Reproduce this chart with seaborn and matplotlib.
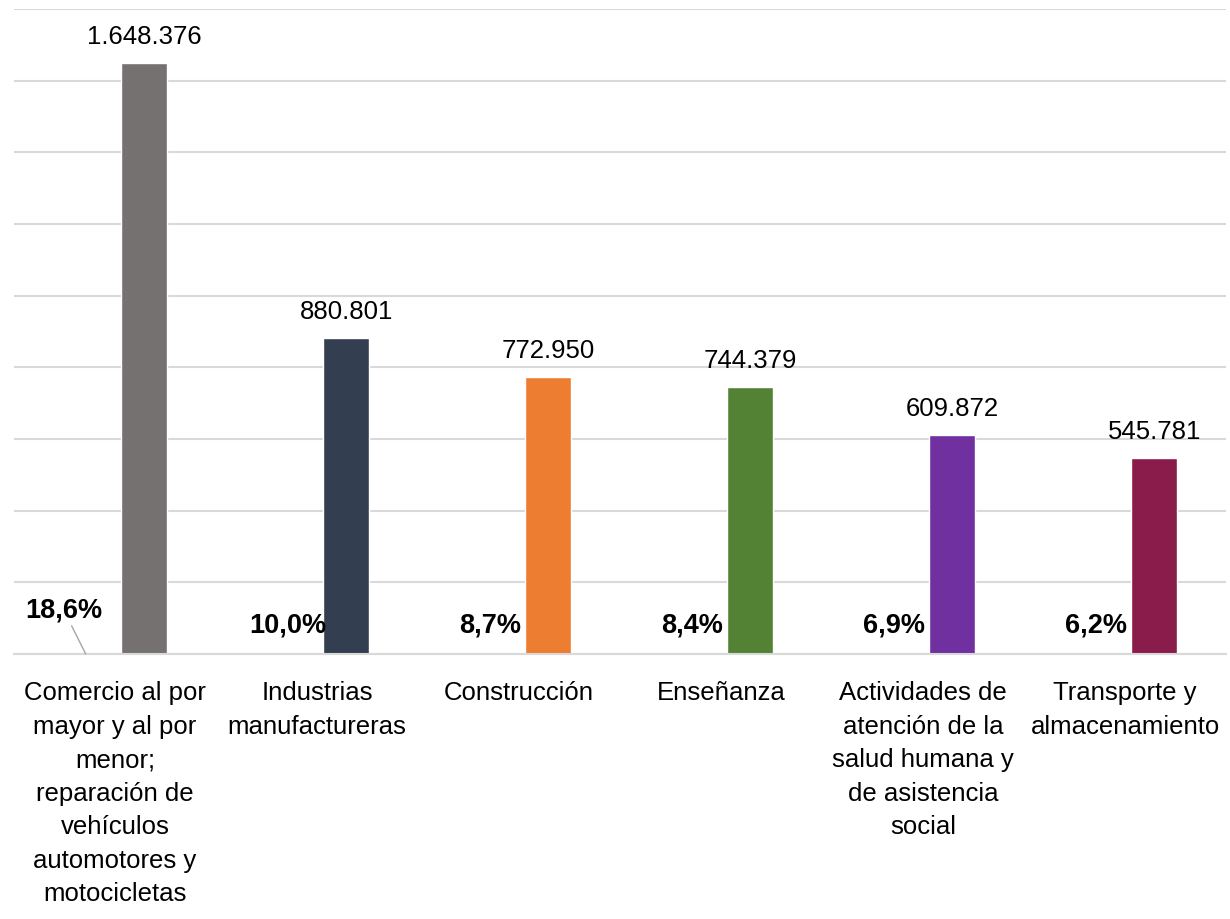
import numpy as np
import pandas as pd
import seaborn as sns
from matplotlib import pyplot as plt

# data
sectores = ['Comercio al por\nmayor y al por\nmenor;\nreparación de\nvehículos\nautomotores y\nmotocicletas',
            'Industrias\nmanufactureras',
            'Construcción',
            'Enseñanza',
            'Actividades de\natención de la\nsalud humana y\nde asistencia\nsocial',
            'Transporte y\nalmacenamiento']
ocupados = [1648376, 880801, 772950, 744379, 609872, 545781]
participacion = [18.6, 10.0, 8.7, 8.4, 6.9, 6.2]
colores = ['#767171', '#333F50', '#ED7D31', '#548235', '#7030A0', '#8A1C4B']

sns.set_theme(style='white')
plt.rcParams['font.family'] = ['Liberation Sans', 'DejaVu Sans']

df = pd.DataFrame({'pos': np.arange(len(sectores)), 'ocupados': ocupados})
df['x'] = df['pos'] + 0.145   # value bars sit right of the category centre

fig = plt.figure(figsize=(12.3, 9.2), dpi=100)
ax = fig.add_axes([14/1230, 1 - 655/920, 1212/1230, 645/920])

sns.barplot(data=df, x='x', y='ocupados', hue='x', palette=colores, native_scale=True,
            width=0.228, legend=False, saturation=1, ax=ax)

ax.set_xlim(-0.5, len(sectores) - 0.5)
ax.set_ylim(0, 1800000)
ax.set_yticks(np.arange(0, 1800001, 200000))
ax.yaxis.grid(True, color='#D9D9D9', linewidth=1.5)
ax.set_axisbelow(True)
ax.tick_params(axis='y', labelleft=False, length=0)
ax.set_xticks(df['pos'])
ax.set_xticklabels(sectores, fontsize=18.5, linespacing=1.5, color='black')
ax.tick_params(axis='x', length=0, pad=19)
ax.set_xlabel('')
ax.set_ylabel('')
for s in ['top', 'right', 'left']:
    ax.spines[s].set_visible(False)
ax.spines['bottom'].set_color('#D9D9D9')
ax.spines['bottom'].set_linewidth(1.5)

# value labels above bars
for xv, v in zip(df['x'], ocupados):
    ax.annotate(f'{v:,}'.replace(',', '.'), (xv, v), xytext=(0, 11), textcoords='offset points',
                ha='center', va='bottom', fontsize=18.5, color='black')

# percentage labels at the base, left of each bar
for i, p in enumerate(participacion):
    txt = f'{p:.1f}%'.replace('.', ',')
    if i == 0:
        ax.annotate(txt, (i - 0.145, 0), xytext=(-16, 32), textcoords='offset points',
                    ha='center', va='center', fontsize=19.5, fontweight='bold', color='black',
                    arrowprops=dict(arrowstyle='-', color='#A6A6A6', lw=1,
                                    shrinkA=0, shrinkB=0))
    else:
        ax.annotate(txt, (i - 0.145, 0), xytext=(0, 21), textcoords='offset points',
                    ha='center', va='center', fontsize=19.5, fontweight='bold', color='black')

fig.savefig('out.png', dpi=100)
